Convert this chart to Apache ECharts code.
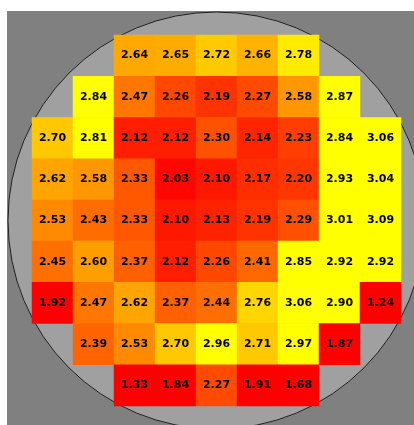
<!DOCTYPE html>
<html>
<head>
<meta charset="utf-8">
<script src="https://cdn.jsdelivr.net/npm/echarts@6/dist/echarts.min.js"></script>
<style>
  html, body { margin: 0; padding: 0; background: #ffffff; }
  #chart { width: 414px; height: 425px; }
</style>
</head>
<body>
<div id="chart"></div>
<script>
// Wafer die map: 9 x 9 sites, null = no die at that position
const columns = ['1', '2', '3', '4', '5', '6', '7', '8', '9'];
const rowNames = ['1', '2', '3', '4', '5', '6', '7', '8', '9'];

const row1 = [null, null, 2.64, 2.65, 2.72, 2.66, 2.78, null, null];
const row2 = [null, 2.84, 2.47, 2.26, 2.19, 2.27, 2.58, 2.87, null];
const row3 = [2.70, 2.81, 2.12, 2.12, 2.30, 2.14, 2.23, 2.84, 3.06];
const row4 = [2.62, 2.58, 2.33, 2.03, 2.10, 2.17, 2.20, 2.93, 3.04];
const row5 = [2.53, 2.43, 2.33, 2.10, 2.13, 2.19, 2.29, 3.01, 3.09];
const row6 = [2.45, 2.60, 2.37, 2.12, 2.26, 2.41, 2.85, 2.92, 2.92];
const row7 = [1.92, 2.47, 2.62, 2.37, 2.44, 2.76, 3.06, 2.90, 1.24];
const row8 = [null, 2.39, 2.53, 2.70, 2.96, 2.71, 2.97, 1.87, null];
const row9 = [null, null, 1.33, 1.84, 2.27, 1.91, 1.68, null, null];

const rows = [row1, row2, row3, row4, row5, row6, row7, row8, row9];

// Red -> orange -> yellow colour scale (stops every 0.05)
const scaleMin = 2.0;
const scaleMax = 2.8;
const scaleColors = [
  '#ff0000', '#ff0c00', '#ff1800', '#ff2800', '#ff3600', '#ff4400',
  '#ff5200', '#ff5c00', '#ff6600', '#ff7000', '#ff8000', '#ff9000',
  '#ff9e00', '#ffac00', '#ffc800', '#ffcc00', '#ffff00'
];

const cells = [];
rows.forEach((vals, r) => {
  vals.forEach((v, c) => {
    if (v !== null) cells.push([c, r, v]);
  });
});

// Plot layout (pixels)
const gridLeft = 32, gridTop = 35, gridW = 369, gridH = 371;
const cx = gridLeft + gridW / 2;
const cy = gridTop + gridH / 2;
const waferR = 208.5;

const chart = echarts.init(document.getElementById('chart'), null, { renderer: 'canvas' });

chart.setOption({
  animation: false,
  backgroundColor: '#ffffff',
  graphic: [
    {
      type: 'rect', z: 0, silent: true,
      shape: { x: 7, y: 11, width: 420, height: 420 },
      style: { fill: '#808080' }
    },
    {
      type: 'circle', z: 1, silent: true,
      shape: { cx: cx, cy: cy, r: waferR },
      style: { fill: '#a0a0a0', stroke: '#202020', lineWidth: 1 }
    }
  ],
  grid: { left: gridLeft, top: gridTop, width: gridW, height: gridH },
  xAxis: {
    type: 'category', data: columns, show: false,
    axisLine: { show: false }, splitLine: { show: false }
  },
  yAxis: {
    type: 'category', data: rowNames, inverse: true, show: false,
    axisLine: { show: false }, splitLine: { show: false }
  },
  visualMap: {
    show: false,
    type: 'continuous',
    dimension: 2,
    min: scaleMin,
    max: scaleMax,
    inRange: { color: scaleColors }
  },
  series: [{
    type: 'heatmap',
    z: 5,
    data: cells,
    itemStyle: { borderWidth: 0 },
    label: {
      show: true,
      color: '#000000',
      fontFamily: 'DejaVu Sans',
      fontWeight: 'bold',
      fontSize: 11,
      formatter: p => p.value[2].toFixed(2)
    },
    emphasis: { disabled: true }
  }]
});
</script>
</body>
</html>
